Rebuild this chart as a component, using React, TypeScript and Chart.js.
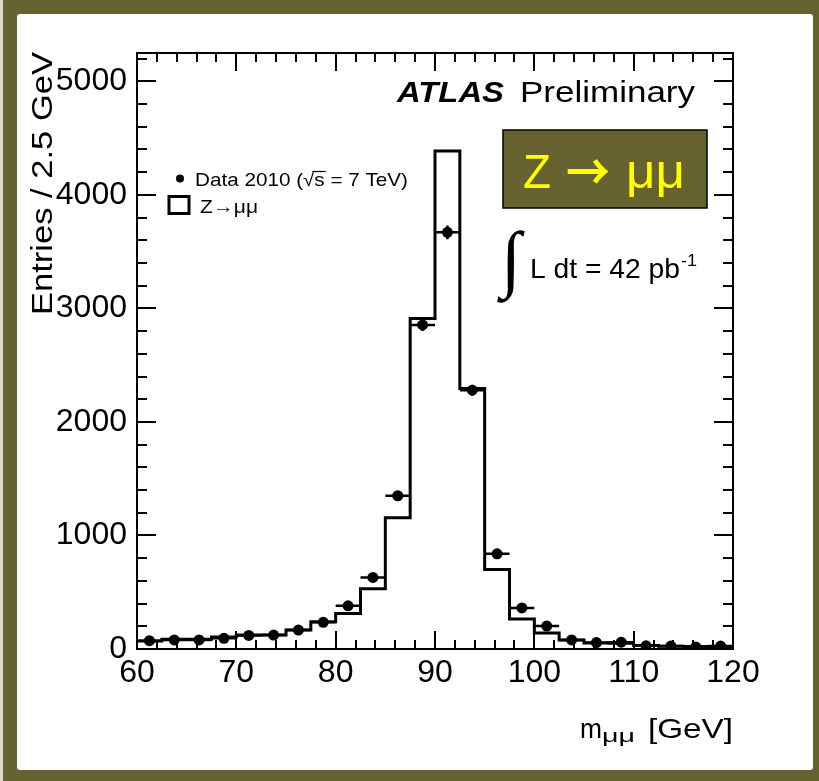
import React, { useEffect, useRef } from "react";
import { Chart, registerables } from "chart.js";

Chart.register(...registerables);

// ---- data ----
const binLeftEdges = [60, 62.5, 65, 67.5, 70, 72.5, 75, 77.5, 80, 82.5, 85, 87.5, 90, 92.5, 95, 97.5, 100, 102.5, 105, 107.5, 110, 112.5, 115, 117.5];
const binWidth = 2.5;
const xMin = 60;
const xMax = 120;
const mcZmumu = [70, 85, 85, 105, 123, 123, 167, 241, 313, 530, 1156, 2911, 4386, 2295, 701, 265, 140, 80, 52, 50, 30, 25, 22, 18];
const data2010 = [73, 80, 80, 94, 120, 123, 167, 235, 380, 630, 1350, 2855, 3670, 2280, 838, 362, 202, 80, 57, 60, 28, 26, 18, 26];
const xTickValues = [60, 70, 80, 90, 100, 110, 120];
const yTickValues = [0, 1000, 2000, 3000, 4000, 5000];
const yMin = 0;
const yMax = 5250;
const xMajorStep = 10;
const xMinorStep = 2;
const yMajorStep = 1000;
const yMinorStep = 200;

const FONT = '"Liberation Sans", Arial, Helvetica, sans-serif';
const OLIVE = "#666330";

function fitText(ctx: CanvasRenderingContext2D, text: string, x: number, y: number, font: string, targetW?: number, color = "#000") {
  ctx.save();
  ctx.font = font;
  ctx.fillStyle = color;
  ctx.textAlign = "left";
  ctx.textBaseline = "alphabetic";
  const w = ctx.measureText(text).width;
  const sx = targetW ? targetW / w : 1;
  ctx.translate(x, y);
  ctx.scale(sx, 1);
  ctx.fillText(text, 0, 0);
  ctx.restore();
  return sx;
}

const decorPlugin = {
  id: "decor",
  afterDatasetsDraw(chart: any) {
    const ctx: CanvasRenderingContext2D = chart.ctx;
    const xs = chart.scales.x;
    const ys = chart.scales.y;
    const { left, right, top, bottom } = chart.chartArea;

    // error bars on data
    ctx.save();
    ctx.strokeStyle = "#000";
    ctx.lineWidth = 2.5;
    data2010.forEach((v, i) => {
      const xl = xs.getPixelForValue(binLeftEdges[i]);
      const xr = xs.getPixelForValue(binLeftEdges[i] + binWidth);
      const yc = ys.getPixelForValue(v);
      const e = Math.sqrt(v);
      const xc = xs.getPixelForValue(binLeftEdges[i] + binWidth / 2);
      ctx.beginPath();
      ctx.moveTo(xl, yc);
      ctx.lineTo(xr, yc);
      ctx.moveTo(xc, ys.getPixelForValue(v + e));
      ctx.lineTo(xc, Math.min(bottom, ys.getPixelForValue(Math.max(0, v - e))));
      ctx.stroke();
    });
    ctx.restore();

    // frame
    ctx.save();
    ctx.strokeStyle = "#000";
    ctx.lineWidth = 2;
    ctx.strokeRect(left, top, right - left, bottom - top);

    // x ticks (inside, bottom and top)
    ctx.beginPath();
    for (let v = xMin; v <= xMax + 1e-9; v += xMinorStep) {
      const px = Math.round(xs.getPixelForValue(v));
      const major = Math.abs(v / xMajorStep - Math.round(v / xMajorStep)) < 1e-6;
      const len = major ? 18 : 9;
      ctx.moveTo(px, bottom);
      ctx.lineTo(px, bottom - len);
      ctx.moveTo(px, top);
      ctx.lineTo(px, top + len);
    }
    // y ticks (inside, left and right)
    for (let v = yMin; v <= yMax + 1e-9; v += yMinorStep) {
      const py = Math.round(ys.getPixelForValue(v));
      const major = Math.abs(v / yMajorStep - Math.round(v / yMajorStep)) < 1e-6;
      const len = major ? 19 : 10;
      ctx.moveTo(left, py);
      ctx.lineTo(left + len, py);
      ctx.moveTo(right, py);
      ctx.lineTo(right - len, py);
    }
    ctx.stroke();
    ctx.restore();

    // ATLAS Preliminary
    fitText(ctx, "ATLAS", 397, 102, `italic bold 29px ${FONT}`, 107);
    fitText(ctx, "Preliminary", 520, 102, `29px ${FONT}`, 175);

    // legend
    ctx.save();
    ctx.fillStyle = "#000";
    ctx.beginPath();
    ctx.arc(180, 178.5, 4, 0, Math.PI * 2);
    ctx.fill();
    ctx.restore();
    const legText = "Data 2010 (√s = 7 TeV)";
    const sx = fitText(ctx, legText, 195, 186, `19px ${FONT}`, 213);
    ctx.save();
    ctx.font = `19px ${FONT}`;
    const pre = ctx.measureText("Data 2010 (√").width * sx;
    const sw = ctx.measureText("s").width * sx;
    ctx.strokeStyle = "#000";
    ctx.lineWidth = 1.2;
    ctx.beginPath();
    ctx.moveTo(195 + pre - 2, 171.5);
    ctx.lineTo(195 + pre + sw + 1, 171.5);
    ctx.stroke();
    ctx.restore();

    ctx.save();
    ctx.strokeStyle = "#000";
    ctx.lineWidth = 3;
    ctx.strokeRect(169, 196.5, 20, 17);
    ctx.restore();
    fitText(ctx, "Z→μμ", 200, 213, `19px ${FONT}`, 58);

    // Z -> mumu box
    ctx.save();
    ctx.fillStyle = OLIVE;
    ctx.fillRect(503, 130, 204, 78);
    ctx.strokeStyle = "#000";
    ctx.lineWidth = 1.5;
    ctx.strokeRect(503, 130, 204, 78);
    ctx.restore();
    fitText(ctx, "Z", 523, 188, `48px ${FONT}`, 28, "#ffff00");
    fitText(ctx, "→", 566, 190, `bold 50px "Noto Sans CJK SC", "DejaVu Sans", sans-serif`, 44, "#ffff00");
    fitText(ctx, "μμ", 626, 188, `48px ${FONT}`, 59, "#ffff00");

    // luminosity
    fitText(ctx, "∫", 501, 283, `74px "Liberation Serif", "Times New Roman", serif`, 20);
    fitText(ctx, "L dt = 42 pb", 530, 278, `28px ${FONT}`, 150);
    fitText(ctx, "-1", 681, 266, `17px ${FONT}`, 16);

    // x title
    fitText(ctx, "m", 580, 738, `28px ${FONT}`, 22);
    fitText(ctx, "μμ", 602, 742, `18px ${FONT}`, 33);
    fitText(ctx, "[GeV]", 648, 738, `28px ${FONT}`, 85);

    // y title (rotated)
    ctx.save();
    ctx.translate(52, 315);
    ctx.rotate(-Math.PI / 2);
    fitText(ctx, "Entries / 2.5 GeV", 0, 0, `30px ${FONT}`, 263);
    ctx.restore();
  },
};

export default function App() {
  const ref = useRef<HTMLCanvasElement | null>(null);

  useEffect(() => {
    if (!ref.current) return;
    const mcPoints = binLeftEdges.map((x, i) => ({ x, y: mcZmumu[i] }));
    mcPoints.push({ x: xMax, y: mcZmumu[mcZmumu.length - 1] });
    const dataPoints = binLeftEdges.map((x, i) => ({ x: x + binWidth / 2, y: data2010[i] }));

    const chart = new Chart(ref.current, {
      type: "scatter",
      data: {
        datasets: [
          {
            type: "line",
            label: "Z→μμ",
            data: mcPoints,
            stepped: true,
            borderColor: "#000",
            borderWidth: 3,
            pointRadius: 0,
            fill: false,
            order: 2,
          } as any,
          {
            type: "scatter",
            label: "Data 2010",
            data: dataPoints,
            pointRadius: 5.5,
            pointBackgroundColor: "#000",
            pointBorderWidth: 0,
            backgroundColor: "#000",
            order: 1,
          } as any,
        ],
      },
      options: {
        responsive: false,
        animation: false,
        devicePixelRatio: 1,
        layout: { padding: { left: 0, top: 53, right: 86, bottom: 0 } },
        plugins: { legend: { display: false }, tooltip: { enabled: false } },
        scales: {
          x: {
            type: "linear",
            min: xMin,
            max: xMax,
            grid: { display: false },
            border: { display: false },
            afterBuildTicks: (s: any) => {
              s.ticks = xTickValues.map((v) => ({ value: v }));
            },
            ticks: {
              autoSkip: false,
              maxRotation: 0,
              padding: 0,
              color: "#000",
              font: { family: FONT, size: 32, lineHeight: 1 },
              callback: (v: any) => String(v),
            },
            afterFit: (s: any) => {
              s.height = 132;
            },
          },
          y: {
            type: "linear",
            min: yMin,
            max: yMax,
            grid: { display: false },
            border: { display: false },
            afterBuildTicks: (s: any) => {
              s.ticks = yTickValues.map((v) => ({ value: v }));
            },
            ticks: {
              autoSkip: false,
              padding: 2,
              color: "#000",
              font: { family: FONT, size: 32 },
              callback: (v: any) => String(v),
            },
            afterFit: (s: any) => {
              s.width = 137;
            },
          },
        },
      } as any,
      plugins: [decorPlugin],
    });
    return () => chart.destroy();
  }, []);

  return (
    <div style={{ position: "fixed", left: 0, top: 0, width: 819, height: 781, background: OLIVE, overflow: "hidden" }}>
      <div style={{ position: "absolute", left: 0, top: 0, width: 3, height: 781, background: "#d9d9cf" }} />
      <div style={{ position: "absolute", left: 17, top: 14, width: 796, height: 756, background: "#fff", borderRadius: 3 }} />
      <canvas ref={ref} width={819} height={781} style={{ position: "absolute", left: 0, top: 0, display: "block" }} />
    </div>
  );
}
